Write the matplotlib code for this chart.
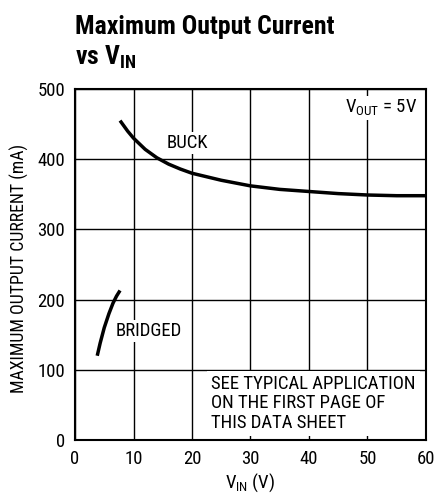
import matplotlib
matplotlib.use("Agg")
import matplotlib.pyplot as plt
from matplotlib import font_manager

fams = {f.name for f in font_manager.fontManager.ttflist}
cands = [f for f in ('Roboto Condensed', 'Archivo Narrow', 'Liberation Sans Narrow') if f in fams]
plt.rcParams['font.family'] = cands + ['Liberation Sans', 'DejaVu Sans']
plt.rcParams['mathtext.fontset'] = 'custom'
plt.rcParams['mathtext.rm'] = cands[0] if cands else 'Liberation Sans'
plt.rcParams['mathtext.bf'] = (cands[0] + ':bold') if cands else 'Liberation Sans:bold'

buck_v = [7.7, 9, 10, 12, 14, 16, 18, 20, 25, 30, 35, 40, 45, 50, 55, 60]
buck_i = [455, 440, 430, 414, 402, 393, 386, 380, 370, 362, 357, 354, 351, 349, 348, 348]
bridged_v = [3.8, 4.3, 5.0, 5.8, 6.5, 7.1, 7.7]
bridged_i = [120, 138, 160, 180, 195, 205, 213]

xticks = [0, 10, 20, 30, 40, 50, 60]
yticks = [0, 100, 200, 300, 400, 500]

fig = plt.figure(figsize=(4.35, 4.94), dpi=100)
ax = fig.add_axes([75/435, 1-440/494, 351/435, 351/494])
ax.set_xlim(0, 60)
ax.set_ylim(0, 500)
ax.set_xticks(xticks)
ax.set_yticks(yticks)
ax.grid(True, color='black', linewidth=1.0)
ax.set_axisbelow(True)
ax.tick_params(length=0, labelsize=13.5, pad=7)
for s in ax.spines.values():
    s.set_linewidth(1.5)

ax.plot(buck_v, buck_i, color='black', lw=2.5, solid_capstyle='butt', zorder=3)
ax.plot(bridged_v, bridged_i, color='black', lw=2.5, solid_capstyle='butt', zorder=3)

bb = dict(facecolor='white', edgecolor='none', pad=1.5)
ax.text(15.6, 423, 'BUCK', fontsize=13.5, ha='left', va='center', bbox=bb, zorder=4)
ax.text(7.0, 155, 'BRIDGED', fontsize=13.5, ha='left', va='center', bbox=bb, zorder=4)
ax.text(23.3, 93, 'SEE TYPICAL APPLICATION\nON THE FIRST PAGE OF\nTHIS DATA SHEET', fontsize=13.5,
        ha='left', va='top', linespacing=1.1, bbox=dict(facecolor='white', edgecolor='none', pad=3), zorder=4)
ax.text(58.6, 487, r'V$_{\mathregular{OUT}}$ = 5V', fontsize=13.5, ha='right', va='top', bbox=bb, zorder=4)

ax.set_xlabel(r'V$_{\mathregular{IN}}$ (V)', fontsize=13.5, labelpad=3)
ax.set_ylabel('MAXIMUM OUTPUT CURRENT (mA)', fontsize=12.8)
ax.yaxis.set_label_coords(-46/351, 0.49)

fig.text(75/435, 1-27/494, 'Maximum Output Current', fontsize=18.5, fontweight='bold', ha='left', va='center')
fig.text(75/435, 1-57/494, r'vs V$_{\mathbf{IN}}$', fontsize=18.5, fontweight='bold', ha='left', va='center')

fig.savefig('out.png', dpi=100)
